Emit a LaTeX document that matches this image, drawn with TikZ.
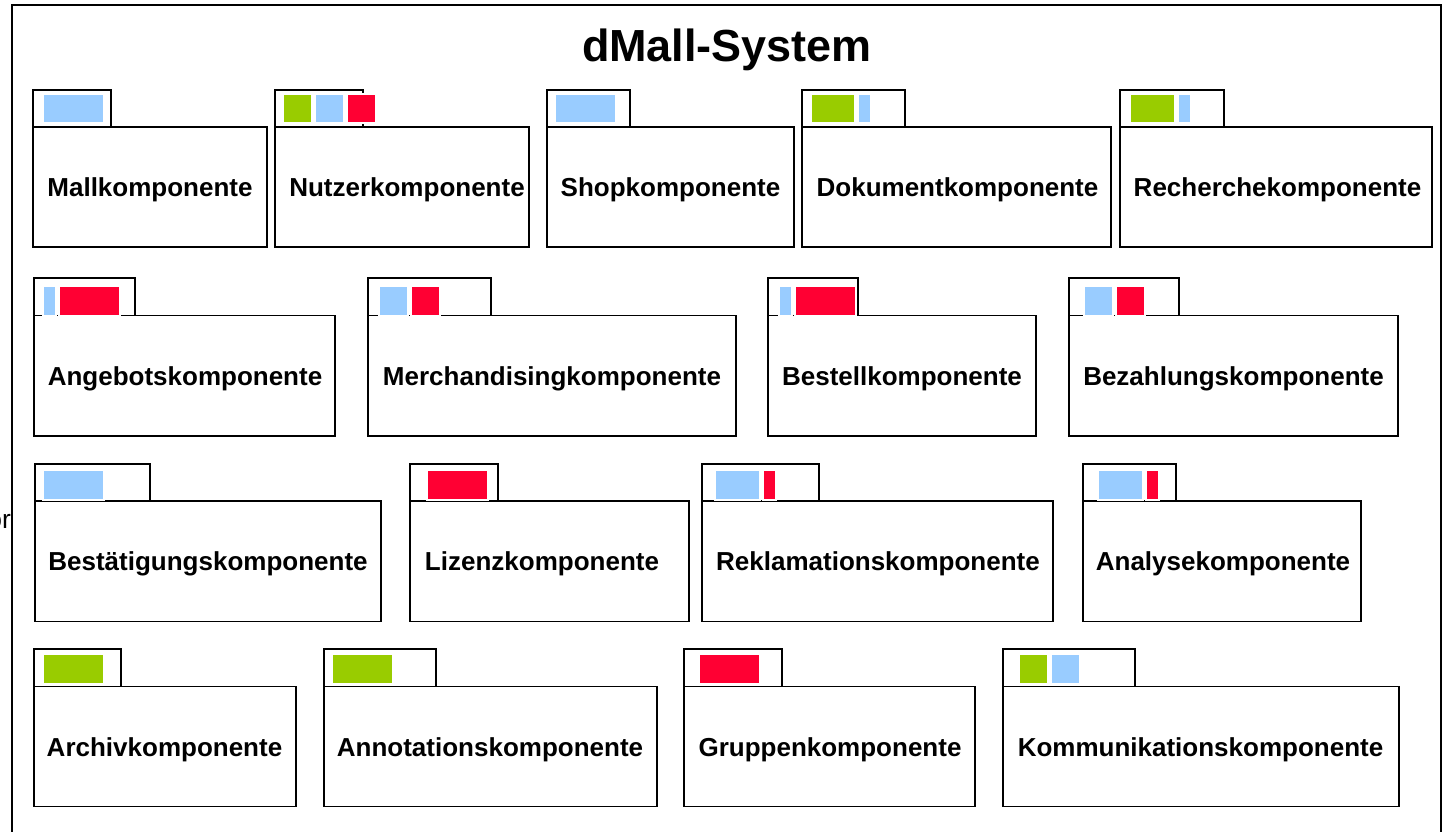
\documentclass[tikz,border=0pt]{standalone}
\usepackage{fontspec}
\setmainfont{Liberation Sans}
\usepackage{xcolor}
\usepackage{tikz}
\usetikzlibrary{positioning}

\definecolor{kblau}{HTML}{99CCFF}
\definecolor{kgruen}{HTML}{99CC00}
\definecolor{krot}{HTML}{FF0033}

\begin{document}
\begin{tikzpicture}[x=0.02cm, y=-0.02cm,
    box/.style={draw=black, line width=1.1pt, fill=white},
    farbe/.style={draw=white, line width=0.8pt},
    kname/.style={font=\fontsize{14.8}{17}\selectfont\bfseries, anchor=base}]
    \clip (0,0) rectangle (1448,832);

    % Rahmen
    \draw[line width=1.1pt] (12,5) rectangle (1441,860);
    \node[font=\fontsize{25.6}{30}\selectfont\bfseries, anchor=base] (titel) at (727,61) {dMall-System};
    \node[font=\fontsize{15}{18}\selectfont, anchor=base east] (rest) at (17,528) {or};

    % Zeile 1
    \draw[box] (33,90) rectangle (111,127);
    \draw[box] (33,127) rectangle (267,247);
    \filldraw[farbe, fill=kblau] (43,94) rectangle (104,123);
    \node[kname] (mall) at (150,196.5) {Mallkomponente};

    \draw[box] (275,90) rectangle (363,127);
    \draw[box] (275,127) rectangle (529,247);
    \filldraw[farbe, fill=kgruen] (283,94) rectangle (312,123);
    \filldraw[farbe, fill=kblau] (315,94) rectangle (344,123);
    \filldraw[farbe, fill=krot] (347,94) rectangle (376,123);
    \node[kname] (nutzer) at (407,196.5) {Nutzerkomponente};

    \draw[box] (547,90) rectangle (630,127);
    \draw[box] (547,127) rectangle (794,247);
    \filldraw[farbe, fill=kblau] (555,94) rectangle (616,123);
    \node[kname] (shop) at (670.5,196.5) {Shopkomponente};

    \draw[box] (802,90) rectangle (905,127);
    \draw[box] (802,127) rectangle (1111,247);
    \filldraw[farbe, fill=kgruen] (811,94) rectangle (855,123);
    \filldraw[farbe, fill=kblau] (858,94) rectangle (871,123);
    \node[kname] (dokument) at (957.5,196.5) {Dokumentkomponente};

    \draw[box] (1120,90) rectangle (1224,127);
    \draw[box] (1120,127) rectangle (1432,247);
    \filldraw[farbe, fill=kgruen] (1130,94) rectangle (1175,123);
    \filldraw[farbe, fill=kblau] (1178,94) rectangle (1191,123);
    \node[kname] (recherche) at (1277.5,196.5) {Recherchekomponente};

    % Zeile 2
    \draw[box] (34,278) rectangle (135,315.5);
    \draw[box] (34,315.5) rectangle (335,436);
    \filldraw[farbe, fill=kblau] (43,286) rectangle (56,315.5);
    \filldraw[farbe, fill=krot] (59,286) rectangle (120,315.5);
    \node[kname] (angebot) at (185,385) {Angebotskomponente};

    \draw[box] (368,278) rectangle (491,315.5);
    \draw[box] (368,315.5) rectangle (736,436);
    \filldraw[farbe, fill=kblau] (379,286) rectangle (408,315.5);
    \filldraw[farbe, fill=krot] (411,286) rectangle (440,315.5);
    \node[kname] (merchandising) at (552,385) {Merchandisingkomponente};

    \draw[box] (768,278) rectangle (858,315.5);
    \draw[box] (768,315.5) rectangle (1036,436);
    \filldraw[farbe, fill=kblau] (779,286) rectangle (792,315.5);
    \filldraw[farbe, fill=krot] (795,286) rectangle (856,315.5);
    \node[kname] (bestell) at (902,385) {Bestellkomponente};

    \draw[box] (1069,278) rectangle (1179,315.5);
    \draw[box] (1069,315.5) rectangle (1398,436);
    \filldraw[farbe, fill=kblau] (1084,286) rectangle (1113,315.5);
    \filldraw[farbe, fill=krot] (1116,286) rectangle (1145,315.5);
    \node[kname] (bezahlung) at (1233.5,385) {Bezahlungskomponente};

    % Zeile 3
    \draw[box] (35,464) rectangle (150,501);
    \draw[box] (35,501) rectangle (381,621.5);
    \filldraw[farbe, fill=kblau] (43,470) rectangle (104,500);
    \node[kname] (bestaetigung) at (208,570.5) {Bestätigungskomponente};

    \draw[box] (410,464) rectangle (498,501);
    \draw[box] (410,501) rectangle (689,621.5);
    \filldraw[farbe, fill=krot] (427,470) rectangle (488,500);
    \node[kname] (lizenz) at (542,570.5) {Lizenzkomponente};

    \draw[box] (702,464) rectangle (819,501);
    \draw[box] (702,501) rectangle (1053,621.5);
    \filldraw[farbe, fill=kblau] (715,470) rectangle (760,500);
    \filldraw[farbe, fill=krot] (763,470) rectangle (776,500);
    \node[kname] (reklamation) at (878,570.5) {Reklamationskomponente};

    \draw[box] (1083,464) rectangle (1176,501);
    \draw[box] (1083,501) rectangle (1361,621.5);
    \filldraw[farbe, fill=kblau] (1098,470) rectangle (1143,500);
    \filldraw[farbe, fill=krot] (1146,470) rectangle (1159,500);
    \node[kname] (analyse) at (1223,570.5) {Analysekomponente};

    % Zeile 4
    \draw[box] (34,649) rectangle (121,686.5);
    \draw[box] (34,686.5) rectangle (296,806.5);
    \filldraw[farbe, fill=kgruen] (43,654) rectangle (104,684);
    \node[kname] (archiv) at (164.5,756) {Archivkomponente};

    \draw[box] (324,649) rectangle (436,686.5);
    \draw[box] (324,686.5) rectangle (657,806.5);
    \filldraw[farbe, fill=kgruen] (332,654) rectangle (393,684);
    \node[kname] (annotation) at (490,756) {Annotationskomponente};

    \draw[box] (684,649) rectangle (782,686.5);
    \draw[box] (684,686.5) rectangle (975,806.5);
    \filldraw[farbe, fill=krot] (699,654) rectangle (760,684);
    \node[kname] (gruppen) at (830,756) {Gruppenkomponente};

    \draw[box] (1003,649) rectangle (1135,686.5);
    \draw[box] (1003,686.5) rectangle (1399,806.5);
    \filldraw[farbe, fill=kgruen] (1019,654) rectangle (1048,684);
    \filldraw[farbe, fill=kblau] (1051,654) rectangle (1080,684);
    \node[kname] (kommunikation) at (1200.5,756) {Kommunikationskomponente};

\end{tikzpicture}
\end{document}
